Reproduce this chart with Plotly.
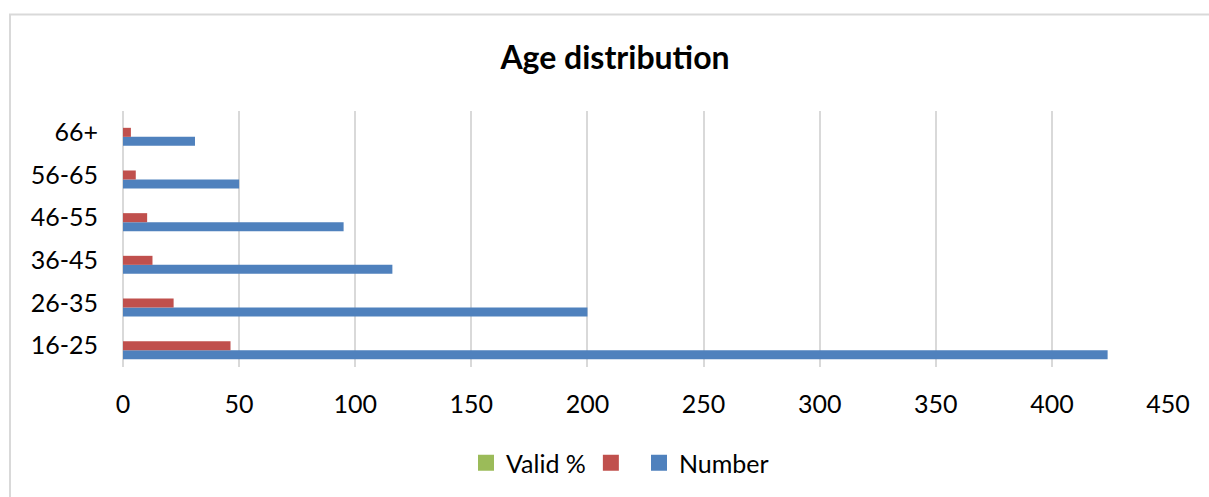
import plotly.graph_objects as go

# Age groups, bottom to top
age_groups = ["16-25", "26-35", "36-45", "46-55", "56-65", "66+"]
number = [424, 200, 116, 95, 50, 31]
percent = [46.3, 21.8, 12.7, 10.4, 5.5, 3.4]
valid_pct = [0, 0, 0, 0, 0, 0]

x_ticks = [0, 50, 100, 150, 200, 250, 300, 350, 400, 450]

FONT = "Lato"
BLUE = "#4f81bd"
RED = "#c0504d"
GREEN = "#9bbb59"
GRID = "#d9d9d9"

W, H = 1209, 497
L, R, T, B = 123, 41, 111, 130

series = [("Number", number, BLUE), ("\u2009", percent, RED), ("Valid %", valid_pct, GREEN)]

fig = go.Figure()
for name, vals, color in series:
    fig.add_trace(go.Bar(y=age_groups, x=vals, orientation="h", name=name,
                         showlegend=False, marker=dict(color=color, line=dict(width=0))))
# legend keys drawn as larger squares
for name, vals, color in series:
    fig.add_trace(go.Scatter(x=[None], y=[None], mode="markers", name=name,
                             marker=dict(symbol="square", size=17, color=color)))

# outer chart frame
pw, ph = W - L - R, H - T - B
fig.add_shape(type="rect", xref="paper", yref="paper",
              x0=(10 - L) / pw, x1=(W + 10 - L) / pw,
              y0=(H - B - (H + 20)) / ph, y1=(H - B - 14.5) / ph,
              line=dict(color=GRID, width=2), fillcolor="rgba(0,0,0,0)", layer="below")

fig.update_layout(
    width=W, height=H,
    margin=dict(l=L, r=R, t=T, b=B, pad=0),
    paper_bgcolor="white", plot_bgcolor="white",
    font=dict(family=FONT, color="#000000", size=25),
    title=dict(text="<b>Age distribution</b>", x=615 / W, xref="container", xanchor="center",
               y=1 - 58 / H, yref="container", yanchor="middle",
               font=dict(family=FONT, size=32, color="#000000")),
    barmode="group", bargap=0.366, bargroupgap=0,
    showlegend=True,
    legend=dict(orientation="h", traceorder="reversed", xref="container", yref="container",
                x=620 / W, xanchor="center", y=1 - 463 / H, yanchor="middle",
                font=dict(family=FONT, size=25), itemwidth=30, bgcolor="rgba(0,0,0,0)"),
    xaxis=dict(range=[0, 450], tickvals=x_ticks, ticktext=[str(v) for v in x_ticks],
               showgrid=True, gridcolor=GRID, gridwidth=2, zeroline=True, zerolinecolor=GRID,
               zerolinewidth=2, showline=False, ticks="", ticklabelstandoff=20,
               fixedrange=True),
    yaxis=dict(type="category", categoryorder="array", categoryarray=age_groups,
               showgrid=False, showline=False, ticks="", ticklabelstandoff=24,
               fixedrange=True),
)

fig.write_html("out.html")
